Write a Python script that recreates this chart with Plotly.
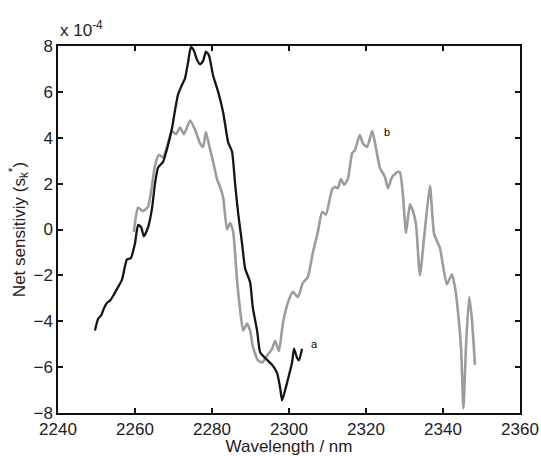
import plotly.graph_objects as go

# Net sensitivity values in units of 1e-4
wl_a = [2249.6, 2250.4, 2251.2, 2251.9, 2252.7, 2253.5, 2254.3, 2255.3, 2256.6, 2257.4,
        2257.9, 2258.9, 2260.0, 2260.8, 2261.6, 2262.3, 2263.4, 2264.4, 2265.2, 2266.0,
        2267.3, 2268.3, 2269.6, 2270.4, 2271.2, 2272.2, 2273.0, 2273.8, 2274.5, 2275.3,
        2276.1, 2276.9, 2277.7, 2278.4, 2279.2, 2280.3, 2281.6, 2282.9, 2284.2, 2285.2,
        2286.0, 2286.8, 2287.8, 2288.6, 2289.9, 2290.6, 2291.7, 2292.5, 2293.8, 2295.6,
        2296.9, 2297.7, 2298.2, 2299.0, 2299.7, 2300.8, 2301.3, 2302.1, 2302.6, 2303.4]
sens_a = [-4.4, -3.9, -3.75, -3.45, -3.2, -3.1, -2.9, -2.6, -2.2, -1.6,
          -1.3, -1.25, -0.6, 0.2, 0.1, -0.3, 0.1, 0.9, 2.0, 2.7,
          2.95, 3.5, 4.4, 5.2, 5.9, 6.3, 6.6, 7.3, 7.95, 7.8,
          7.4, 7.2, 7.35, 7.75, 7.6, 6.7, 6.0, 5.1, 3.8, 3.4,
          2.0, 0.7, -0.6, -1.7, -2.3, -3.4, -4.4, -5.35, -5.6, -5.9,
          -6.25, -6.9, -7.45, -7.0, -6.55, -5.8, -5.2, -5.6, -5.7, -5.2]

wl_b = [2259.7, 2260.8, 2262.1, 2263.4, 2264.4, 2265.2, 2266.2, 2267.3, 2268.3, 2269.6,
        2270.6, 2271.7, 2272.7, 2274.3, 2275.6, 2276.9, 2277.7, 2278.4, 2279.2, 2280.3,
        2281.3, 2282.1, 2282.9, 2283.9, 2284.7, 2285.5, 2286.5, 2287.3, 2288.1, 2289.1,
        2289.9, 2290.6, 2291.9, 2293.0, 2294.3, 2295.6, 2296.4, 2297.4, 2298.4, 2299.7,
        2301.0, 2302.3, 2303.6, 2304.9, 2306.2, 2307.5, 2308.6, 2309.6, 2311.2, 2312.0,
        2312.7, 2313.5, 2314.3, 2315.3, 2316.4, 2317.1, 2318.4, 2319.2, 2320.3, 2321.6,
        2322.3, 2323.6, 2324.9, 2325.7, 2326.8, 2328.1, 2328.8, 2329.6, 2330.4, 2331.4,
        2332.2, 2333.0, 2334.0, 2335.3, 2336.6, 2337.7, 2339.2, 2341.0, 2342.3, 2343.1,
        2343.9, 2344.7, 2345.3, 2346.0, 2346.8, 2347.5, 2348.3]
sens_b = [-0.1, 0.95, 0.8, 1.0, 1.9, 2.8, 3.25, 3.15, 3.6, 4.3,
          4.15, 4.45, 4.15, 4.75, 4.35, 3.75, 3.6, 4.25, 3.7, 2.95,
          2.2, 1.85, 1.4, 0.0, 0.28, -0.1, -2.2, -3.5, -4.4, -4.1,
          -4.4, -5.1, -5.7, -5.8, -5.5, -5.2, -4.85, -5.3, -4.1, -3.2,
          -2.72, -2.95, -2.33, -2.07, -1.0, -0.1, 0.77, 0.65, 1.75, 1.85,
          1.8, 2.2, 1.95, 2.2, 3.33, 3.45, 4.12, 3.75, 3.6, 4.3,
          3.8, 2.7, 2.3, 1.8, 2.3, 2.5, 2.5, 1.5, -0.15, 1.1,
          0.8, 0.2, -2.0, 0.0, 1.9, -0.2, -0.8, -2.4, -1.95, -2.5,
          -3.6, -5.2, -7.8, -5.0, -2.94, -3.9, -5.9]

x_ticks = [2240, 2260, 2280, 2300, 2320, 2340, 2360]
y_ticks = [-8, -6, -4, -2, 0, 2, 4, 6, 8]

font_family = "Liberation Sans, Arial, sans-serif"

fig = go.Figure()
fig.add_trace(go.Scatter(x=wl_b, y=sens_b, mode="lines",
                         line=dict(color="#9c9c9c", width=2.6, shape="spline", smoothing=0.5),
                         showlegend=False))
fig.add_trace(go.Scatter(x=wl_a, y=sens_a, mode="lines",
                         line=dict(color="#151515", width=2.3, shape="spline", smoothing=0.5),
                         showlegend=False))

fig.add_annotation(x=2305.2, y=-5.0, text="a", showarrow=False, xanchor="left",
                   font=dict(size=11, color="#000", family=font_family))
fig.add_annotation(x=2324.2, y=4.25, text="b", showarrow=False, xanchor="left",
                   font=dict(size=11, color="#000", family=font_family))
fig.add_annotation(xref="paper", yref="paper", x=0.0, y=1.0, yshift=4,
                   text="x 10<sup>-4</sup>", showarrow=False,
                   xanchor="left", yanchor="bottom",
                   font=dict(size=17, color="#222", family=font_family))

axis_common = dict(showline=True, linecolor="#111", linewidth=1.5, mirror="ticks",
                   ticks="inside", ticklen=5, tickwidth=1.5, tickcolor="#111",
                   showgrid=False, zeroline=False, automargin=False,
                   tickfont=dict(size=17, color="#222", family=font_family))

fig.update_xaxes(range=[2240, 2360], tickvals=x_ticks,
                 title=dict(text="Wavelength / nm", standoff=0,
                            font=dict(size=17, color="#222", family=font_family)),
                 **axis_common)
fig.update_yaxes(range=[-8, 8], tickvals=y_ticks,
                 title=dict(text="Net sensitiviy (s<sub>k</sub><sup>*</sup>)", standoff=4,
                            font=dict(size=17, color="#222", family=font_family)),
                 **axis_common)

fig.update_layout(width=541, height=456, margin=dict(l=58, r=21, t=46, b=43),
                  plot_bgcolor="white", paper_bgcolor="white")

fig.write_html("out.html")
